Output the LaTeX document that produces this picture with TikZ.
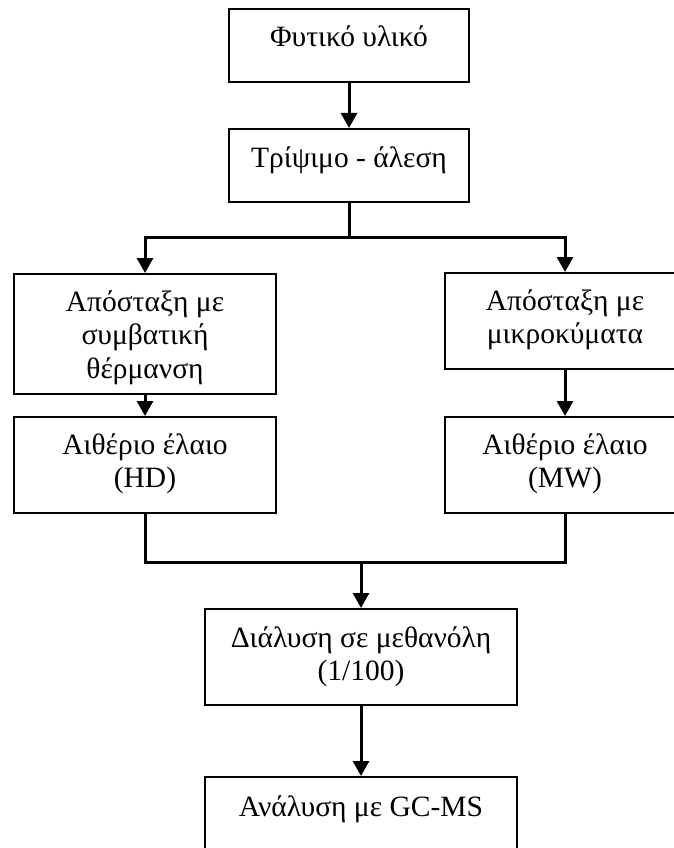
\documentclass[tikz,border=0pt]{standalone}
\usepackage{fontspec}
\setmainfont{Liberation Serif}
\usetikzlibrary{arrows.meta,calc}
\begin{document}
\begin{tikzpicture}[x=1pt,y=-1pt,
  stepbox/.style={draw=black, line width=2pt, rectangle, inner sep=0pt},
  txt/.style={anchor=base, inner sep=0pt, font=\fontsize{29.5}{34}\selectfont},
  conn/.style={line width=3pt, -{Triangle[width=16pt,length=15pt]}},
  plainline/.style={line width=3pt}]
\useasboundingbox (0,0) rectangle (674,848);
\clip (0,0) rectangle (674,848);
% boxes
\node[stepbox, minimum width=240pt, minimum height=73pt] (b1) at (349,45.5) {};
\node[stepbox, minimum width=240pt, minimum height=73pt] (b2) at (349,165.5) {};
\node[stepbox, minimum width=262pt, minimum height=120pt] (b3) at (145,334) {};
\node[stepbox, minimum width=240pt, minimum height=96pt] (b4) at (565,321) {};
\node[stepbox, minimum width=262pt, minimum height=96pt] (b5) at (145,465) {};
\node[stepbox, minimum width=240pt, minimum height=96pt] (b6) at (565,465) {};
\node[stepbox, minimum width=312pt, minimum height=96pt] (b7) at (361,657) {};
\node[stepbox, minimum width=312pt, minimum height=96pt] (b8) at (361,825) {};
% texts
\node[txt] (t1) at ($(b1.north)+(0,39)$) {Φυτικό υλικό};
\node[txt] (t2) at ($(b2.north)+(0,39)$) {Τρίψιμο - άλεση};
\node[txt] (t3a) at ($(b3.north)+(0,38)$) {Απόσταξη με};
\node[txt] (t3b) at ($(b3.north)+(0,71.5)$) {συμβατική};
\node[txt] (t3c) at ($(b3.north)+(0,105)$) {θέρμανση};
\node[txt] (t4a) at ($(b4.north)+(0,38)$) {Απόσταξη με};
\node[txt] (t4b) at ($(b4.north)+(0,71.5)$) {μικροκύματα};
\node[txt] (t5a) at ($(b5.north)+(0,38)$) {Αιθέριο έλαιο};
\node[txt] (t5b) at ($(b5.north)+(0,71.5)$) {(HD)};
\node[txt] (t6a) at ($(b6.north)+(0,38)$) {Αιθέριο έλαιο};
\node[txt] (t6b) at ($(b6.north)+(0,71.5)$) {(MW)};
\node[txt] (t7a) at ($(b7.north)+(0,39)$) {Διάλυση σε μεθανόλη};
\node[txt] (t7b) at ($(b7.north)+(0,72.5)$) {(1/100)};
\node[txt] (t8) at ($(b8.north)+(0,40)$) {Ανάλυση με GC-MS};
% junctions
\coordinate (j1) at (349,237);
\coordinate (jl) at (145,237);
\coordinate (jr) at (565,237);
\coordinate (j2) at (361,562);
% connectors
\draw[conn] (b1.south) -- (b2.north);
\draw[plainline] (b2.south) -- (j1);
\draw[plainline] ($(jl)+(-1.5,0)$) -- ($(jr)+(1.5,0)$);
\draw[conn] (jl) -- (b3.north);
\draw[conn] (jr) -- (b4.north);
\draw[conn] (b3.south) -- (b5.north);
\draw[conn] (b4.south) -- (b6.north);
\draw[plainline] (b5.south) |- (j2) -| (b6.south);
\draw[conn] (j2) -- (b7.north);
\draw[conn] (b7.south) -- (b8.north);
\end{tikzpicture}
\end{document}
